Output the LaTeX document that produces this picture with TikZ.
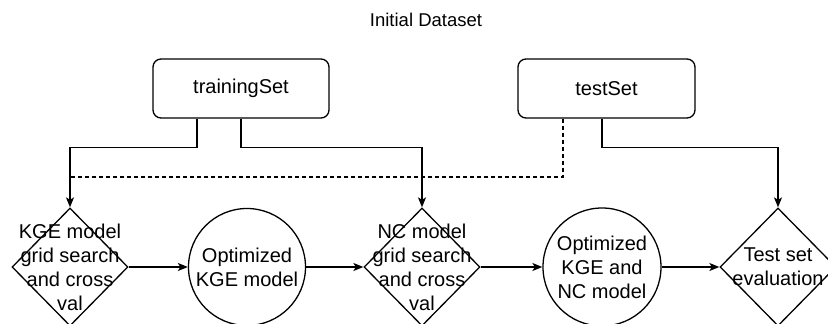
\documentclass[tikz,border=0pt]{standalone}
\usepackage{fontspec}
\setmainfont{Liberation Sans}
\usetikzlibrary{arrows.meta,shapes.geometric}

\begin{document}
\begin{tikzpicture}[
  x=1pt, y=-1pt,
  line width=1.3pt,
  txt/.style={font=\fontsize{20pt}{24pt}\selectfont, align=center, inner sep=0pt},
  setbox/.style={draw, rounded corners=8pt, minimum width=176pt, minimum height=59pt,
                 font=\fontsize{20pt}{24pt}\selectfont, inner sep=0pt},
  dia/.style={draw, diamond, minimum width=116pt, minimum height=118pt, inner sep=0pt},
  circ/.style={draw, circle, minimum size=117pt, inner sep=0pt},
  arr/.style={-{Stealth[length=10pt, width=8pt, inset=2.5pt]}},
  dashline/.style={dash pattern=on 4pt off 3pt},
]
\useasboundingbox (0,0) rectangle (828,324);

% title
\node[font=\fontsize{18.5pt}{22pt}\selectfont, inner sep=0pt] (title) at (426,20) {Initial Dataset};

% data splits
\node[setbox] (train) at (241,88.5) {trainingSet};
\node[setbox, minimum width=177pt] (test) at (606.5,88.5) {testSet};

% pipeline steps
\node[dia, label={[txt]center:KGE model\\grid search\\and cross\\val}] (d1) at (70,267) {};
\node[circ, label={[txt]center:Optimized\\KGE model}] (c1) at (247,267) {};
\node[dia, label={[txt]center:NC model\\grid search\\and cross\\val}] (d2) at (422,267) {};
\node[circ, minimum size=118pt, label={[txt]center:Optimized\\KGE and\\NC model}] (c2) at (602,267) {};
\node[dia, label={[txt]center:Test set\\evaluation}] (d3) at (778,267) {};

% where the dashed test-set line meets the first branch
\coordinate (join) at (d1.north |- 0,177);

% connectors from the data splits
\draw[arr] ([xshift=-44pt]train.south) -- ++(0,29) -| (d1.north);
\draw[arr] (train.south) -- ++(0,29) -| (d2.north);
\draw[dashline] ([xshift=-43.5pt]test.south) |- (join);
\draw[arr] ([xshift=-4.5pt]test.south) -- ++(0,29) -| (d3.north);

% main flow
\draw[arr] (d1.east) -- (c1.west);
\draw[arr] (c1.east) -- (d2.west);
\draw[arr] (d2.east) -- (c2.west);
\draw[arr] (c2.east) -- (d3.west);
\end{tikzpicture}
\end{document}
